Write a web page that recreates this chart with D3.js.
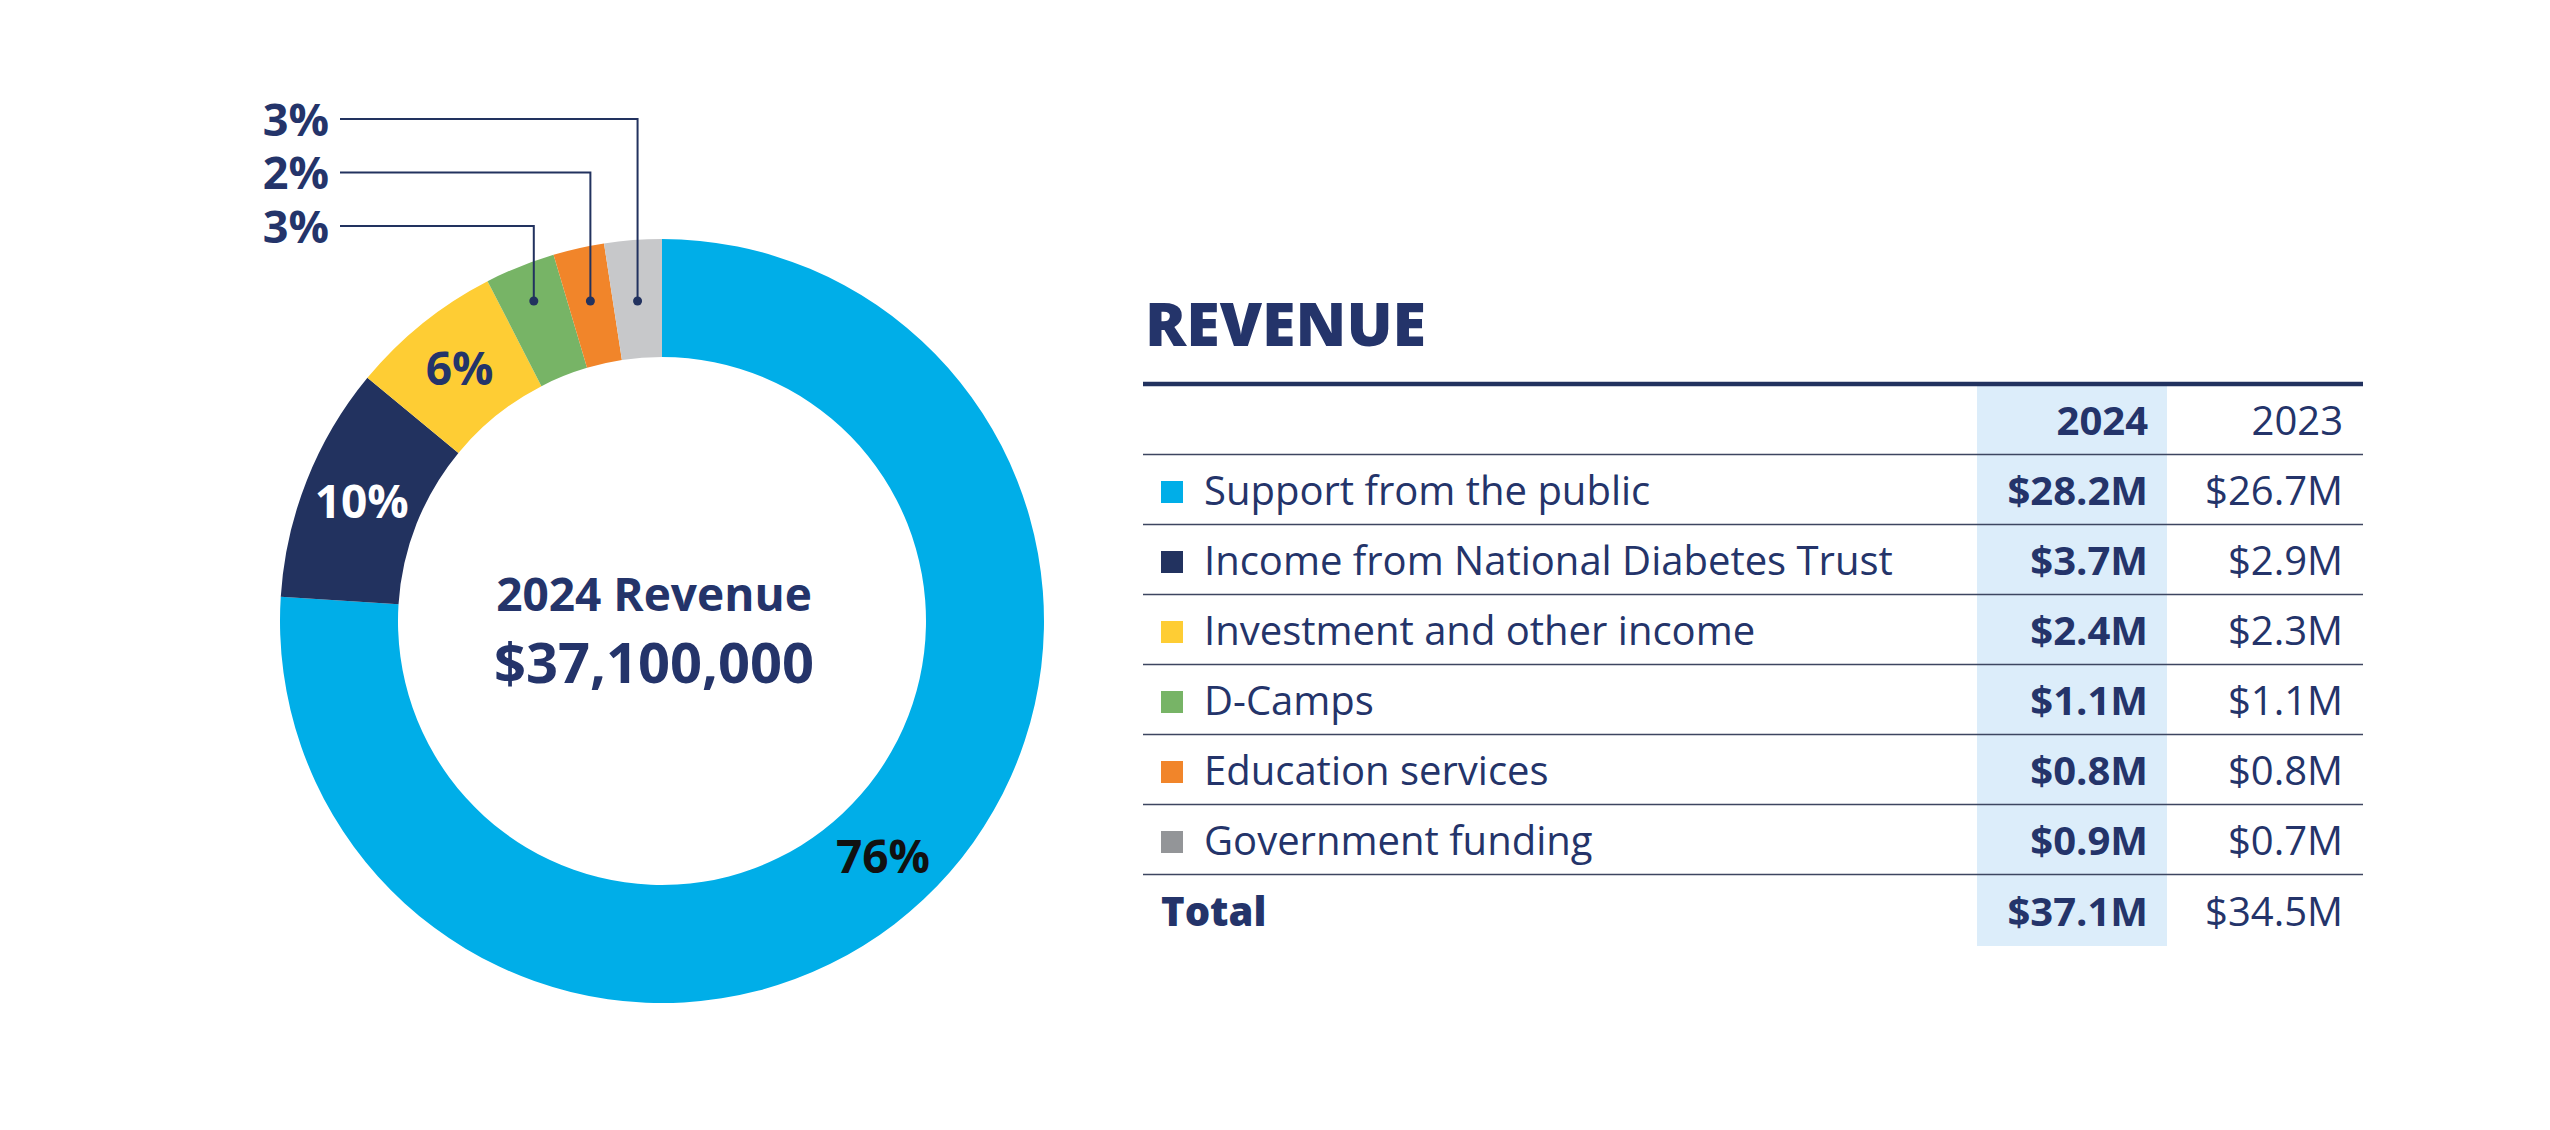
<!DOCTYPE html>
<html lang="en">
<head>
    <meta charset="UTF-8">
    <title>2024 Revenue</title>
    <style>
        html, body {
            margin: 0;
            padding: 0;
            background-color: #ffffff;
        }
        svg {
            display: block;
            font-family: "Open Sans", Arial, sans-serif;
        }
    </style>
    <script src="https://cdn.jsdelivr.net/npm/d3@7"></script>
</head>
<body>
    <svg id="chart" width="2550" height="1130"></svg>

    <script>
        // revenue categories, in the order of the table (and of the donut, clockwise from 12 o'clock)
        const categories = [
            "Support from the public",
            "Income from National Diabetes Trust",
            "Investment and other income",
            "D-Camps",
            "Education services",
            "Government funding"
        ];
        const revenue2024 = [28.2, 3.7, 2.4, 1.1, 0.8, 0.9];
        const revenue2023 = [26.7, 2.9, 2.3, 1.1, 0.8, 0.7];
        const pctLabels = ["76%", "10%", "6%", "3%", "2%", "3%"];
        const years = ["2024", "2023"];

        const sliceColors = ["#00aee8", "#22325f", "#fecd34", "#77b466", "#f1852a", "#c7c8ca"];
        const swatchColors = ["#00aee8", "#22325f", "#fecd34", "#77b466", "#f1852a", "#939598"];
        const navy = "#24346a";

        const svg = d3.select("#chart");

        // ---------- donut ----------
        const cx = 662, cy = 621;
        const outerR = 382, innerR = 264;

        const slices = d3.pie().sort(null).value(d => d.value)(
            categories.map((c, i) => ({ name: c, value: revenue2024[i], label: pctLabels[i], color: sliceColors[i] }))
        );
        const arc = d3.arc().innerRadius(innerR).outerRadius(outerR);

        const donut = svg.append("g").attr("transform", `translate(${cx},${cy})`);

        donut.selectAll("path")
            .data(slices)
            .join("path")
            .attr("d", arc)
            .attr("fill", d => d.data.color);

        // labels inside the ring for the three big slices
        const insideColors = ["#111111", "#ffffff", navy];
        donut.selectAll("text.inside")
            .data(slices.slice(0, 3))
            .join("text")
            .attr("class", "inside")
            .attr("x", d => arc.centroid(d)[0])
            .attr("y", d => arc.centroid(d)[1])
            .attr("dy", "0.35em")
            .attr("text-anchor", "middle")
            .attr("font-size", 46)
            .attr("font-weight", 700)
            .attr("fill", (d, i) => insideColors[i])
            .text(d => d.data.label);

        // call-outs for the three small slices
        const dotY = 301 - cy;               // dots sit on one level
        const calloutY = [226, 172.5, 119];  // green, orange, gray
        const calloutX = 340;
        const small = slices.slice(3);

        const callouts = svg.append("g").attr("transform", `translate(${cx},${cy})`);
        small.forEach((d, i) => {
            const mid = (d.startAngle + d.endAngle) / 2;
            const dx = dotY * -Math.tan(mid) * -1;
            const x = -dotY * Math.tan(mid);
            const ly = calloutY[i] - cy;
            callouts.append("path")
                .attr("d", `M${x},${dotY} V${ly} H${calloutX - cx}`)
                .attr("fill", "none")
                .attr("stroke", "#22325f")
                .attr("stroke-width", 2);
            callouts.append("circle")
                .attr("cx", x)
                .attr("cy", dotY)
                .attr("r", 4.5)
                .attr("fill", "#22325f");
            callouts.append("text")
                .attr("x", calloutX - cx - 11)
                .attr("y", ly)
                .attr("dy", "0.37em")
                .attr("text-anchor", "end")
                .attr("font-size", 45)
                .attr("font-weight", 700)
                .attr("fill", navy)
                .text(d.data.label);
        });

        // centre text
        const total2024 = d3.sum(revenue2024);
        const total2023 = d3.sum(revenue2023);
        svg.append("text")
            .attr("x", cx - 8)
            .attr("y", 611)
            .attr("text-anchor", "middle")
            .attr("font-size", 46)
            .attr("font-weight", 700)
            .attr("fill", navy)
            .text("2024 Revenue");
        svg.append("text")
            .attr("x", cx - 8)
            .attr("y", 683)
            .attr("text-anchor", "middle")
            .attr("font-size", 56)
            .attr("font-weight", 700)
            .attr("fill", navy)
            .text(d3.format("$,")(Math.round(total2024 * 1e6)));

        // ---------- table ----------
        const tLeft = 1143, tRight = 2363;
        const colBand = [1977, 2167];
        const col2024 = 2148, col2023 = 2343;
        const fmtM = v => "$" + d3.format(".1f")(v) + "M";

        const rowKeys = ["header", ...categories, "Total"];
        const y = d3.scaleBand().domain(rowKeys).range([386, 946]);

        const table = svg.append("g");

        table.append("text")
            .attr("x", 1145)
            .attr("y", 346)
            .attr("font-size", 61)
            .attr("font-weight", 800)
            .attr("fill", navy)
            .text("REVENUE");

        // highlighted 2024 column
        table.append("rect")
            .attr("x", colBand[0])
            .attr("y", y.range()[0])
            .attr("width", colBand[1] - colBand[0])
            .attr("height", y.range()[1] - y.range()[0])
            .attr("fill", "#dcedfa");

        table.append("line")
            .attr("x1", tLeft).attr("x2", tRight)
            .attr("y1", 384).attr("y2", 384)
            .attr("stroke", "#22325f")
            .attr("stroke-width", 4.5);

        // row separators
        table.selectAll("line.sep")
            .data(rowKeys.slice(0, -1))
            .join("line")
            .attr("class", "sep")
            .attr("x1", tLeft).attr("x2", tRight)
            .attr("y1", d => y(d) + y.bandwidth() - 1.5)
            .attr("y2", d => y(d) + y.bandwidth() - 1.5)
            .attr("stroke", "#3d4660")
            .attr("stroke-width", 1.6);

        const mid = k => y(k) + y.bandwidth() / 2;

        // header
        table.append("text")
            .attr("x", col2024).attr("y", mid("header") + 14)
            .attr("text-anchor", "end")
            .attr("font-size", 40).attr("font-weight", 700)
            .attr("fill", navy)
            .text(years[0]);
        table.append("text")
            .attr("x", col2023).attr("y", mid("header") + 14)
            .attr("text-anchor", "end")
            .attr("font-size", 40).attr("font-weight", 400)
            .attr("fill", navy)
            .text(years[1]);

        // category rows
        const rows = table.selectAll("g.row")
            .data(categories)
            .join("g")
            .attr("class", "row")
            .attr("transform", d => `translate(0,${mid(d)})`);

        rows.append("rect")
            .attr("x", 1161).attr("y", -10)
            .attr("width", 22).attr("height", 22)
            .attr("fill", (d, i) => swatchColors[i]);

        rows.append("text")
            .attr("x", 1204).attr("y", 14)
            .attr("font-size", 40)
            .attr("fill", navy)
            .text(d => d);

        rows.append("text")
            .attr("x", col2024).attr("y", 14)
            .attr("text-anchor", "end")
            .attr("font-size", 40).attr("font-weight", 700)
            .attr("fill", navy)
            .text((d, i) => fmtM(revenue2024[i]));

        rows.append("text")
            .attr("x", col2023).attr("y", 14)
            .attr("text-anchor", "end")
            .attr("font-size", 40)
            .attr("fill", navy)
            .text((d, i) => fmtM(revenue2023[i]));

        // total row
        table.append("text")
            .attr("x", 1161).attr("y", mid("Total") + 15)
            .attr("font-size", 40).attr("font-weight", 800)
            .attr("fill", navy)
            .text("Total");
        table.append("text")
            .attr("x", col2024).attr("y", mid("Total") + 15)
            .attr("text-anchor", "end")
            .attr("font-size", 40).attr("font-weight", 700)
            .attr("fill", navy)
            .text(fmtM(total2024));
        table.append("text")
            .attr("x", col2023).attr("y", mid("Total") + 15)
            .attr("text-anchor", "end")
            .attr("font-size", 40)
            .attr("fill", navy)
            .text(fmtM(total2023));
    </script>
</body>
</html>
